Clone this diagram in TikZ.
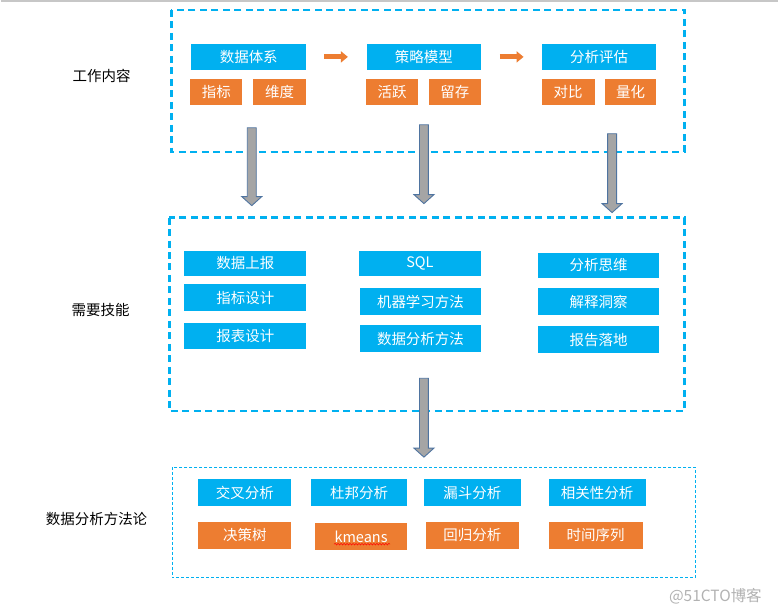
\documentclass[tikz,border=0pt]{standalone}
\usepackage{fontspec}
\setmainfont{Noto Sans CJK SC}
\usetikzlibrary{arrows.meta,decorations.pathmorphing}

\definecolor{skyblue}{HTML}{00B0F0}
\definecolor{officeorange}{HTML}{ED7D31}
\definecolor{arrowgray}{HTML}{A5A5A5}
\definecolor{arrowedge}{HTML}{4F74A0}

\newcommand{\graydown}[3]{%
  \filldraw[grayarrow] (#1-4.5,#2) -- (#1+4.5,#2) -- (#1+4.5,#3-9) -- (#1+10,#3-9)
    -- (#1,#3) -- (#1-10,#3-9) -- (#1-4.5,#3-9) -- cycle;}

\begin{document}
\begin{tikzpicture}[x=1pt,y=-1pt,
    cell/.style={inner sep=0pt,minimum height=26,text=white,font=\fontsize{14.5}{16}\selectfont},
    bluebox/.style={cell,fill=skyblue},
    orangebox/.style={cell,fill=officeorange},
    stage/.style={draw=skyblue,line width=2.2,dash pattern=on 7pt off 4.5pt},
    thinstage/.style={draw=skyblue,line width=1,dash pattern=on 3pt off 2pt},
    grayarrow/.style={fill=arrowgray,draw=arrowedge,line width=0.9,line join=miter},
    orangearrow/.style={officeorange,line width=5,-{Triangle[length=7pt,width=11pt]}},
    rowlabel/.style={font=\fontsize{14.5}{16}\selectfont},
    spellwave/.style={red,line width=0.5,decorate,decoration={snake,amplitude=0.8pt,segment length=3pt}}]
  \fill[white] (0,0) rectangle (779,616);
  \draw[black!22,line width=1.5] (0,1) -- (779,1);

  \draw[stage] (171,10) rectangle (685,152);
  \draw[stage] (169,218) rectangle (685,412);
  \draw[thinstage] (172,468) rectangle (696,579);

  \node[rowlabel] (work) at (101,76) {工作内容};
  \node[rowlabel] (skill) at (100,311) {需要技能};
  \node[rowlabel] (method) at (96,520) {数据分析方法论};

  \node[bluebox,minimum width=115] (system) at (248.5,57) {数据体系};
  \node[orangebox,minimum width=52] (metric) at (216,92) {指标};
  \node[orangebox,minimum width=53] (dimension) at (279.5,92) {维度};
  \node[bluebox,minimum width=114] (model) at (424,57) {策略模型};
  \node[orangebox,minimum width=52] (active) at (392,92) {活跃};
  \node[orangebox,minimum width=52] (retain) at (455,92) {留存};
  \node[bluebox,minimum width=115] (evaluate) at (599.5,57) {分析评估};
  \node[orangebox,minimum width=53] (compare) at (568.5,92) {对比};
  \node[orangebox,minimum width=52] (quantify) at (631,92) {量化};
  \draw[orangearrow] ([xshift=18]system.east) -- ([xshift=-19]model.west);
  \draw[orangearrow] ([xshift=19]model.east) -- ([xshift=-18]evaluate.west);

  \node[bluebox,minimum width=122] (tracking) at (245,264) {数据上报};
  \node[bluebox,minimum width=122,minimum height=27] (metricdesign) at (245,298.5) {指标设计};
  \node[bluebox,minimum width=122] (reportdesign) at (245,337) {报表设计};
  \node[bluebox,minimum width=122] (sql) at (420,264) {SQL};
  \node[bluebox,minimum width=121,minimum height=27] (ml) at (420.5,302.5) {机器学习方法};
  \node[bluebox,minimum width=121,minimum height=27] (analysis) at (420.5,339.5) {数据分析方法};
  \node[bluebox,minimum width=122] (thinking) at (599,266) {分析思维};
  \node[bluebox,minimum width=122,minimum height=27] (insight) at (599,302.5) {解释洞察};
  \node[bluebox,minimum width=122,minimum height=27] (landing) at (599,340.5) {报告落地};

  \node[bluebox,minimum width=93,minimum height=27] (cross) at (244.5,493.5) {交叉分析};
  \node[bluebox,minimum width=96,minimum height=27] (dupont) at (359,493.5) {杜邦分析};
  \node[bluebox,minimum width=97,minimum height=27] (funnel) at (472.5,493.5) {漏斗分析};
  \node[bluebox,minimum width=97,minimum height=27] (correlation) at (597.5,493.5) {相关性分析};
  \node[orangebox,minimum width=93,minimum height=27] (tree) at (244.5,536.5) {决策树};
  \node[orangebox,minimum width=92,minimum height=27] (kmeans) at (361,537.5) {kmeans};
  \node[orangebox,minimum width=93,minimum height=27] (regression) at (472.5,536.5) {回归分析};
  \node[orangebox,minimum width=94,minimum height=27] (series) at (596,536.5) {时间序列};
  \draw[spellwave] ([xshift=-27,yshift=6]kmeans.south) -- ([xshift=29,yshift=6]kmeans.south);

  \graydown{251.5}{128}{206}
  \graydown{424}{125}{204}
  \graydown{612.5}{134}{213}
  \graydown{424}{379}{458}

  \node[text=black!30,font=\fontsize{15.5}{17}\selectfont] (mark) at (716,597) {@51CTO博客};
\end{tikzpicture}
\end{document}
